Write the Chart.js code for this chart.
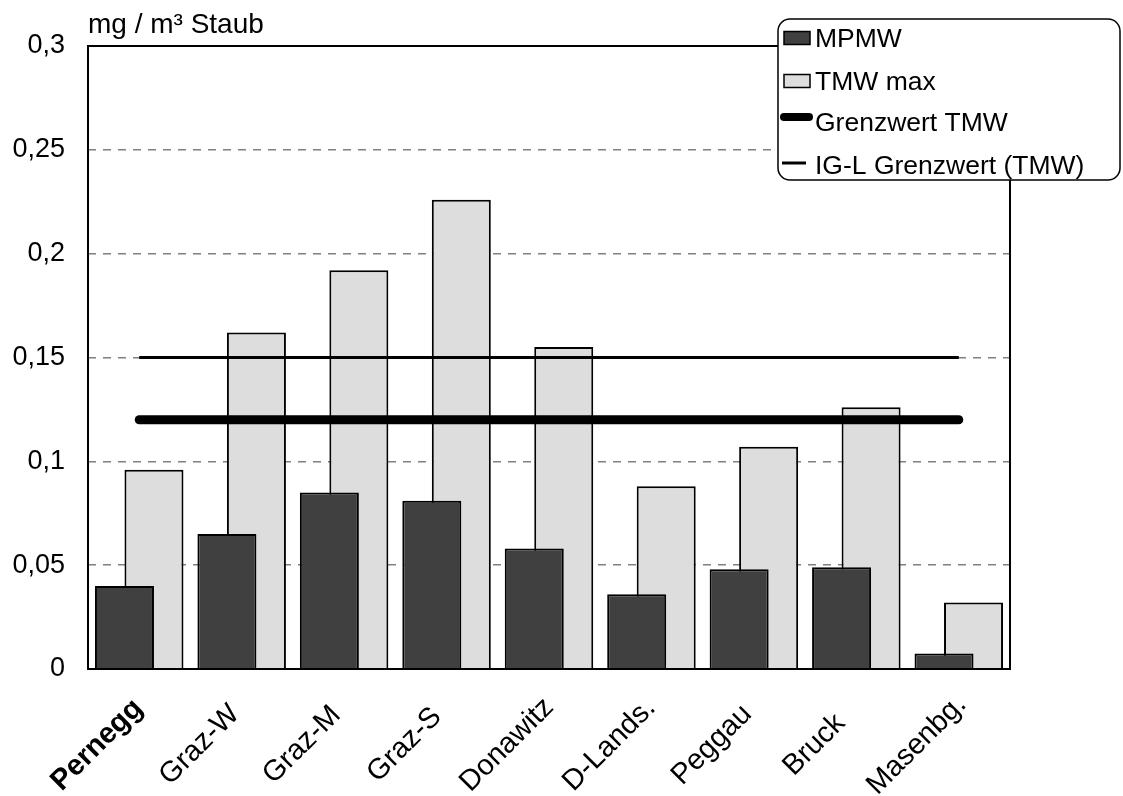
<!DOCTYPE html>
<html>
<head>
<meta charset="utf-8">
<script src="https://cdn.jsdelivr.net/npm/chart.js@4.4.1/dist/chart.umd.min.js"></script>
<style>
  html, body { margin: 0; padding: 0; background: #ffffff; }
  #wrap { width: 1123px; height: 796px; position: relative; }
</style>
</head>
<body>
<div id="wrap"><canvas id="c"></canvas></div>
<script>
const categories = ['Pernegg', 'Graz-W', 'Graz-M', 'Graz-S', 'Donawitz', 'D-Lands.', 'Peggau', 'Bruck', 'Masenbg.'];
const mpmw = [0.040, 0.065, 0.085, 0.081, 0.058, 0.036, 0.048, 0.049, 0.0075];
const tmwMax = [0.096, 0.162, 0.192, 0.226, 0.155, 0.088, 0.107, 0.126, 0.032];
const grenzwertTMW = [0.12, 0.12, 0.12, 0.12, 0.12, 0.12, 0.12, 0.12, 0.12];
const iglGrenzwertTMW = [0.15, 0.15, 0.15, 0.15, 0.15, 0.15, 0.15, 0.15, 0.15];
const yTickLabels = ['0', '0,05', '0,1', '0,15', '0,2', '0,25', '0,3'];
const yAxisTitle = 'mg / m³ Staub';

const FONT = "'Liberation Sans', Arial, sans-serif";

const framePlugin = {
  id: 'frame',
  afterDatasetsDraw(chart) {
    const a = chart.chartArea, ctx = chart.ctx;
    ctx.save();
    ctx.strokeStyle = '#000';
    ctx.lineWidth = 2;
    ctx.strokeRect(a.left, a.top, a.right - a.left, a.bottom - a.top);
    ctx.restore();
  }
};

// category labels, rotated 45° and centred (as the source chart does)
const xLabelPlugin = {
  id: 'xLabels',
  afterDraw(chart) {
    const ctx = chart.ctx;
    const xs = chart.scales.x;
    const bottom = chart.chartArea.bottom;
    ctx.save();
    ctx.fillStyle = '#000';
    ctx.textAlign = 'center';
    ctx.textBaseline = 'middle';
    chart.data.labels.forEach((lab, i) => {
      const x = xs.getPixelForTick(i) - 42;
      const y = bottom + 76;
      ctx.save();
      ctx.translate(x, y);
      ctx.rotate(-Math.PI / 4);
      ctx.font = (i === 0 ? 'bold ' : '') + '29px ' + FONT;
      ctx.fillText(lab, 0, 0);
      ctx.restore();
    });
    ctx.restore();
  }
};

const legendPlugin = {
  id: 'customLegend',
  afterDraw(chart) {
    const ctx = chart.ctx;
    const a = chart.chartArea;
    ctx.save();
    // axis title
    ctx.font = '28px ' + FONT;
    ctx.fillStyle = '#000';
    ctx.textAlign = 'left';
    ctx.textBaseline = 'alphabetic';
    ctx.fillText(yAxisTitle, a.left, 33);

    // legend box
    const bx = 778, by = 19, bw = 342, bh = 161;
    ctx.beginPath();
    ctx.roundRect(bx, by, bw, bh, 12);
    ctx.fillStyle = '#fff';
    ctx.fill();
    ctx.lineWidth = 1.5;
    ctx.strokeStyle = '#000';
    ctx.stroke();

    const markerY = [38, 81, 117, 163];
    const textY = [47, 90, 131, 174];
    chart.data.datasets.forEach((ds, i) => {
      const y = markerY[i];
      if (ds.type === 'line') {
        ctx.beginPath();
        ctx.strokeStyle = ds.borderColor;
        if (ds.borderWidth > 4) {
          ctx.lineCap = 'round';
          ctx.lineWidth = 8;
          ctx.moveTo(784, y); ctx.lineTo(809, y);
        } else {
          ctx.lineCap = 'butt';
          ctx.lineWidth = ds.borderWidth;
          ctx.moveTo(782, y); ctx.lineTo(806, y);
        }
        ctx.stroke();
      } else {
        ctx.fillStyle = ds.backgroundColor;
        ctx.fillRect(784, y - 6.5, 26, 13);
        ctx.lineWidth = 1.5;
        ctx.strokeStyle = '#000';
        ctx.strokeRect(784, y - 6.5, 26, 13);
      }
      ctx.fillStyle = '#000';
      ctx.font = '26.5px ' + FONT;
      ctx.textAlign = 'left';
      ctx.textBaseline = 'alphabetic';
      ctx.fillText(ds.label, 815, textY[i]);
    });
    ctx.restore();
  }
};

new Chart(document.getElementById('c'), {
  data: {
    labels: categories,
    datasets: [
      {
        type: 'bar', label: 'MPMW', data: mpmw,
        backgroundColor: '#404040', borderColor: '#000', borderWidth: 2,
        categoryPercentage: 0.576, barPercentage: 2.0, order: 1
      },
      {
        type: 'bar', label: 'TMW max', data: tmwMax,
        backgroundColor: '#dddddd', borderColor: '#000', borderWidth: 2,
        categoryPercentage: 0.576, barPercentage: 2.0, order: 1
      },
      {
        type: 'line', label: 'Grenzwert TMW', data: grenzwertTMW,
        borderColor: '#000', borderWidth: 9, pointRadius: 0, borderCapStyle: 'round',
        fill: false, order: 0
      },
      {
        type: 'line', label: 'IG-L Grenzwert (TMW)', data: iglGrenzwertTMW,
        borderColor: '#000', borderWidth: 3, pointRadius: 0, borderCapStyle: 'butt',
        fill: false, order: 0
      }
    ]
  },
  options: {
    responsive: true,
    maintainAspectRatio: false,
    animation: false,
    layout: { padding: { left: 0, top: 46, right: 113, bottom: 0 } },
    plugins: {
      legend: { display: false },
      title: { display: false },
      tooltip: { enabled: false }
    },
    scales: {
      x: {
        offset: true,
        grid: { display: false, drawTicks: false },
        border: { display: false },
        ticks: { display: false, autoSkip: false },
        afterFit(s) { s.height = 127; }
      },
      y: {
        min: 0,
        max: 0.3,
        grid: {
          drawTicks: false,
          color: (c) => (c.index === 0 || c.index === 6) ? 'rgba(0,0,0,0)' : '#808080',
          lineWidth: 1.5
        },
        border: { display: false, dash: [8, 7] },
        ticks: {
          stepSize: 0.05,
          padding: 23,
          color: '#000',
          font: { family: FONT, size: 27 },
          callback: (v, i) => yTickLabels[i]
        },
        afterFit(s) { s.width = 88; }
      }
    }
  },
  plugins: [framePlugin, xLabelPlugin, legendPlugin]
});
</script>
</body>
</html>
